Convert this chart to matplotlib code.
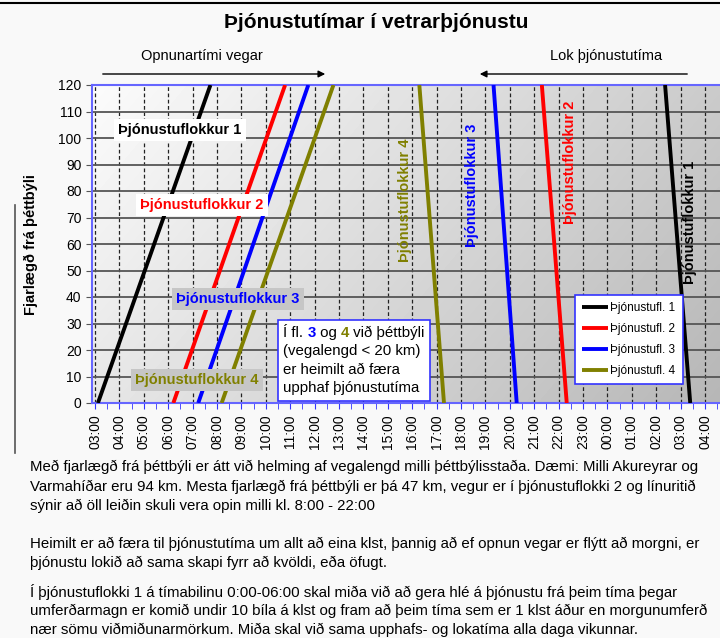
import numpy as np
import matplotlib
matplotlib.use("Agg")
import matplotlib.pyplot as plt
from matplotlib.offsetbox import TextArea, HPacker, VPacker, AnnotationBbox
from matplotlib.lines import Line2D

plt.rcParams['font.family'] = ['Liberation Sans', 'DejaVu Sans']

# data (hours, 24+ = after midnight)
distance = [0, 120]
classes = ["Þjónustufl. 1", "Þjónustufl. 2", "Þjónustufl. 3", "Þjónustufl. 4"]
colors = ["#000000", "#ff0000", "#0000ff", "#808000"]
# opening of road: time at 0 km and at 120 km
open_t0 = [3.12, 6.21, 7.23, 8.19]
open_t120 = [7.73, 10.79, 11.74, 12.77]
# end of service: time at 0 km and at 120 km
close_t0 = [27.39, 22.33, 20.28, 17.30]
close_t120 = [26.36, 21.31, 19.33, 16.29]

hour_ticks = list(range(3, 29))
hour_labels = ["03:00", "04:00", "05:00", "06:00", "07:00", "08:00", "09:00",
               "10:00", "11:00", "12:00", "13:00", "14:00", "15:00", "16:00",
               "17:00", "18:00", "19:00", "20:00", "21:00", "22:00", "23:00",
               "00:00", "01:00", "02:00", "03:00", "04:00"]
km_ticks = list(range(0, 130, 10))

W, H = 720, 638
fig = plt.figure(figsize=(7.2, 6.38), dpi=100, facecolor="#f9f9f9")

ax_l, ax_r, ax_t, ax_b = 92, 720, 85, 403
ax = fig.add_axes([ax_l / W, 1 - ax_b / H, (ax_r - ax_l) / W, (ax_b - ax_t) / H])
xmin, xmax = 2.877, 28.61
ax.set_xlim(xmin, xmax)
ax.set_ylim(0, 120)

# gradient background of the plot area
nx, ny = 200, 100
xf = np.linspace(0, 1, nx)[None, :]
yf = np.linspace(1, 0, ny)[:, None]
g = 0.985 - 0.19 * xf - 0.08 * (1 - yf)
ax.imshow(g, extent=[xmin, xmax, 0, 120], aspect='auto', cmap='gray',
          vmin=0, vmax=1, zorder=0, interpolation='bilinear')

# grid
for h in hour_ticks:
    ax.axvline(h, color="#222222", lw=0.9, ls=(0, (3, 2)), zorder=1)
for k in km_ticks[1:]:
    ax.axhline(k, color="#555555", lw=1.3, zorder=1)

# lines
for i in range(4):
    ax.plot([open_t0[i], open_t120[i]], distance, color=colors[i], lw=2.8,
            label=classes[i], zorder=3, solid_capstyle='butt')
    ax.plot([close_t0[i], close_t120[i]], distance, color=colors[i], lw=2.8,
            zorder=3, solid_capstyle='butt')

# labels along the opening lines
lab_kw = dict(fontsize=10.5, fontweight='bold', ha='center', va='center', zorder=5)
ax.text(6.48, 103.0, "Þjónustuflokkur 1", color=colors[0],
        bbox=dict(fc='white', ec='none', pad=3), **lab_kw)
ax.text(7.39, 74.7, "Þjónustuflokkur 2", color=colors[1],
        bbox=dict(fc='white', ec='none', pad=3), **lab_kw)
ax.text(8.86, 39.2, "Þjónustuflokkur 3", color=colors[2],
        bbox=dict(fc='#c6c6c6', ec='none', pad=3), **lab_kw)
ax.text(7.18, 8.7, "Þjónustuflokkur 4", color=colors[3],
        bbox=dict(fc='#c6c6c6', ec='none', pad=3), **lab_kw)

# vertical labels along the closing lines
vkw = dict(fontsize=10.5, fontweight='bold', ha='center', va='center',
           rotation=90, zorder=5)
ax.text(15.70, 76.6, "Þjónustuflokkur 4", color=colors[3], **vkw)
ax.text(18.45, 82.3, "Þjónustuflokkur 3", color=colors[2], **vkw)
ax.text(22.47, 90.9, "Þjónustuflokkur 2", color=colors[1], **vkw)
ax.text(27.39, 68.3, "Þjónustuflokkur 1", color=colors[0], **vkw)

# note box with coloured numbers
fs = 10.8
row1 = HPacker(children=[
    TextArea("Í fl. ", textprops=dict(fontsize=fs)),
    TextArea("3", textprops=dict(fontsize=fs, color=colors[2], fontweight='bold')),
    TextArea(" og ", textprops=dict(fontsize=fs)),
    TextArea("4", textprops=dict(fontsize=fs, color=colors[3], fontweight='bold')),
    TextArea(" við þéttbýli", textprops=dict(fontsize=fs)),
], align="baseline", pad=0, sep=0)
rows = [row1] + [TextArea(t, textprops=dict(fontsize=fs)) for t in
                 ["(vegalengd < 20 km)", "er heimilt að færa", "upphaf þjónustutíma"]]
box = VPacker(children=rows, align="left", pad=0, sep=3.2)
ab = AnnotationBbox(box, (10.72, 2.9), xycoords='data', box_alignment=(0, 0),
                    frameon=True, pad=0.4,
                    bboxprops=dict(fc='white', ec='#3333ff', lw=1.2), zorder=6)
ab.patch.set_boxstyle('square', pad=0.4)
ax.add_artist(ab)

# axes styling
ax.set_xticks(hour_ticks)
ax.set_xticklabels(hour_labels, rotation=90, fontsize=10)
ax.set_xticks(np.arange(3.5, 28.6, 1.0), minor=True)
ax.set_yticks(km_ticks)
ax.set_yticklabels([str(k) for k in km_ticks], fontsize=10)
ax.tick_params(axis='x', which='both', direction='out', length=4, color='#3333ff', pad=4)
ax.tick_params(axis='y', direction='out', length=4, color='#555555')
for s in ['left', 'bottom', 'top']:
    ax.spines[s].set_color('#6666ff')
    ax.spines[s].set_linewidth(1.5)
ax.spines['right'].set_visible(False)

ax.set_ylabel("Fjarlægð frá þéttbýli", fontsize=10.5, fontweight='bold')
ax.yaxis.set_label_coords(38 / W, 1 - 245 / H, transform=fig.transFigure)

leg = ax.legend(loc='upper left', bbox_to_anchor=(575 / W, 1 - 295 / H),
                bbox_transform=fig.transFigure, fontsize=8.5, frameon=True,
                fancybox=False, handlelength=2.2, labelspacing=0.75,
                borderpad=0.6, handletextpad=0.2, borderaxespad=0)
leg.get_frame().set_edgecolor('#3333ff')
leg.get_frame().set_linewidth(1.2)
leg.get_frame().set_facecolor('white')
leg.get_frame().set_alpha(1)
leg.set_zorder(7)

# title and header arrows
fig.text(376 / W, 1 - 22 / H, "Þjónustutímar í vetrarþjónustu", fontsize=15,
         fontweight='bold', ha='center', va='center')
fig.text(202 / W, 1 - 56 / H, "Opnunartími vegar", fontsize=10.5, ha='center', va='center')
fig.text(606 / W, 1 - 56 / H, "Lok þjónustutíma", fontsize=10.5, ha='center', va='center')
fig.add_artist(matplotlib.patches.FancyArrowPatch(
    (100 / W, 1 - 74 / H), (328 / W, 1 - 74 / H), transform=fig.transFigure,
    arrowstyle='-|>', mutation_scale=10, color='black', lw=1))
fig.add_artist(matplotlib.patches.FancyArrowPatch(
    (690 / W, 1 - 74 / H), (477 / W, 1 - 74 / H), transform=fig.transFigure,
    arrowstyle='-|>', mutation_scale=10, color='black', lw=1))

# decorative lines
fig.add_artist(Line2D([0, 1], [1 - 3 / H, 1 - 3 / H], transform=fig.transFigure,
                      color='black', lw=1.5))
fig.add_artist(Line2D([15 / W, 15 / W], [1 - 205 / H, 1 - 453 / H],
                      transform=fig.transFigure, color='#555555', lw=1.2))

# explanatory text below the chart
notes = [
    (467, "Með fjarlægð frá þéttbýli er átt við helming af vegalengd milli þéttbýlisstaða. Dæmi: Milli Akureyrar og"),
    (487, "Varmahíðar eru 94 km. Mesta fjarlægð frá þéttbýli er þá 47 km, vegur er í þjónustuflokki 2 og línuritið"),
    (506, "sýnir að öll leiðin skuli vera opin milli kl. 8:00 - 22:00"),
    (544, "Heimilt er að færa til þjónustutíma um allt að eina klst, þannig að ef opnun vegar er flýtt að morgni, er"),
    (563, "þjónustu lokið að sama skapi fyrr að kvöldi, eða öfugt."),
    (592, "Í þjónustuflokki 1 á tímabilinu 0:00-06:00 skal miða við að gera hlé á þjónustu frá þeim tíma þegar"),
    (611, "umferðarmagn er komið undir 10 bíla á klst og fram að þeim tíma sem er 1 klst áður en morgunumferð"),
    (630, "nær sömu viðmiðunarmörkum. Miða skal við sama upphafs- og lokatíma alla daga vikunnar."),
]
for py, t in notes:
    fig.text(30 / W, 1 - py / H, t, fontsize=10.8, ha='left', va='center')

fig.savefig("out.png", dpi=100, facecolor=fig.get_facecolor())
